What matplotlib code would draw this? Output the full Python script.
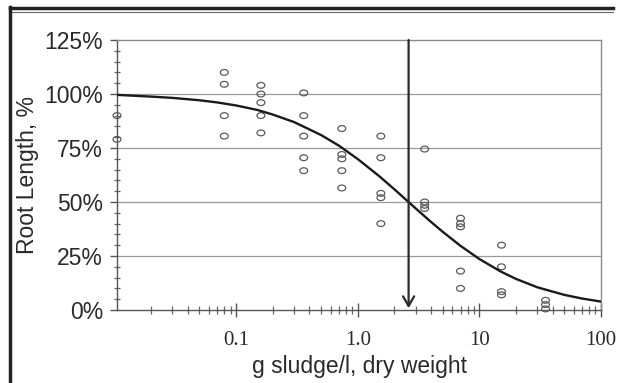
import matplotlib
matplotlib.use("Agg")
import matplotlib.pyplot as plt
from matplotlib.path import Path
from matplotlib.transforms import Affine2D
from matplotlib.lines import Line2D
from matplotlib.ticker import FixedLocator, NullFormatter, LogLocator

# ---- data ----
obs_x = [0.0105, 0.0105,
         0.08, 0.08, 0.08, 0.08,
         0.16, 0.16, 0.16, 0.16, 0.16,
         0.36, 0.36, 0.36, 0.36, 0.36,
         0.74, 0.74, 0.74, 0.74, 0.74,
         1.55, 1.55, 1.55, 1.55, 1.55,
         3.55, 3.55, 3.55, 3.55,
         7.0, 7.0, 7.0, 7.0, 7.0,
         15.2, 15.2, 15.2, 15.2,
         35.0, 35.0, 35.0]
obs_y = [90, 79,
         110, 104.5, 90, 80.5,
         104, 100, 96, 90, 82,
         100.5, 90, 80.5, 70.5, 64.5,
         84, 72, 70, 64.5, 56.5,
         80.5, 70.5, 54, 52, 40,
         74.5, 50, 48.5, 47,
         42.5, 40, 38.5, 18, 10,
         30, 20, 8.5, 7,
         4.5, 2.5, 0.5]

curve_x = [0.0105, 0.02, 0.03, 0.05, 0.07, 0.1, 0.15, 0.2, 0.3, 0.5, 0.7, 1.0,
           1.5, 2.0, 3.0, 4.0, 5.0, 7.0, 10.0, 15.0, 20.0, 30.0, 50.0, 70.0, 100.0]
curve_y = [99.6, 98.8, 98.2, 97.1, 96.1, 94.7, 92.6, 90.5, 87.0, 81.0, 76.1, 69.9,
           62.0, 55.9, 47.0, 40.8, 36.2, 29.7, 23.6, 17.8, 14.4, 10.5, 7.0, 5.3, 3.9]

ec50_x = 2.62

y_ticks = [0, 25, 50, 75, 100, 125]
y_ticklabels = ["0%", "25%", "50%", "75%", "100%", "125%"]
x_ticks = [0.1, 1.0, 10, 100]
x_ticklabels = ["0.1", "1.0", "10", "100"]

# ---- figure ----
fig = plt.figure(figsize=(6.17, 3.83), dpi=100)
ax = fig.add_axes([117/617, 1-310/383, 484/617, 270/383])

ax.set_xscale("log")
ax.set_xlim(0.0105, 100)
ax.set_ylim(0, 125)

# grid lines
for yv in [25, 50, 75, 100]:
    ax.axhline(yv, color="#9a9a9a", lw=0.9, zorder=1)

# ellipse marker
ell = Path.unit_circle().transformed(Affine2D().scale(1.35, 1.0))
ax.scatter(obs_x, obs_y, marker=ell, s=32, facecolors="none",
           edgecolors="#5a5a5a", linewidths=0.9, zorder=3, clip_on=False)

ax.plot(curve_x, curve_y, color="#1a1a1a", lw=1.7, zorder=4)

ax.annotate("", xy=(ec50_x, 0.8), xytext=(ec50_x, 125),
            arrowprops=dict(arrowstyle="->,head_length=0.7,head_width=0.4",
                            color="#2a2a2a", lw=1.6, shrinkA=0, shrinkB=0),
            zorder=5)

# spines
for s in ["top", "right"]:
    ax.spines[s].set_color("#8a8a8a")
    ax.spines[s].set_linewidth(1.0)
for s in ["left", "bottom"]:
    ax.spines[s].set_color("#555555")
    ax.spines[s].set_linewidth(1.0)

# ticks
ax.set_yticks(y_ticks)
ax.set_yticklabels(y_ticklabels, family="Liberation Sans", fontsize=16.5, color="#2a2a2a")
ax.yaxis.set_minor_locator(FixedLocator(list(range(5, 125, 5))))
ax.tick_params(axis="y", which="major", direction="out", length=5, width=1,
               color="#555555", pad=5)
ax.tick_params(axis="y", which="minor", direction="inout", length=5, width=0.9,
               color="#666666")

ax.set_xticks(x_ticks)
ax.set_xticklabels(x_ticklabels, family="Liberation Serif", fontsize=15, color="#2a2a2a")
ax.xaxis.set_minor_locator(LogLocator(base=10, subs=range(2, 10), numticks=20))
ax.xaxis.set_minor_formatter(NullFormatter())
ax.tick_params(axis="x", which="major", direction="inout", length=10, width=1,
               color="#555555", pad=10)
ax.tick_params(axis="x", which="minor", direction="inout", length=6, width=0.9,
               color="#666666")

ax.set_xlabel("g sludge/l, dry weight", family="Liberation Sans", fontsize=16.5,
              color="#2a2a2a", labelpad=4)
ax.set_ylabel("Root Length, %", family="Liberation Sans", fontsize=16.5,
              color="#2a2a2a", labelpad=4)

# outer frame
fig.add_artist(Line2D([10/617, 613/617], [1-8/383, 1-8/383], color="#222222",
                      lw=2.5, transform=fig.transFigure))
fig.add_artist(Line2D([10/617, 613/617], [1-11.5/383, 1-11.5/383], color="#666666",
                      lw=0.8, transform=fig.transFigure))
fig.add_artist(Line2D([10.5/617, 10.5/617], [0, 1-7/383], color="#222222",
                      lw=2.5, transform=fig.transFigure))

fig.savefig("out.png", dpi=100)
